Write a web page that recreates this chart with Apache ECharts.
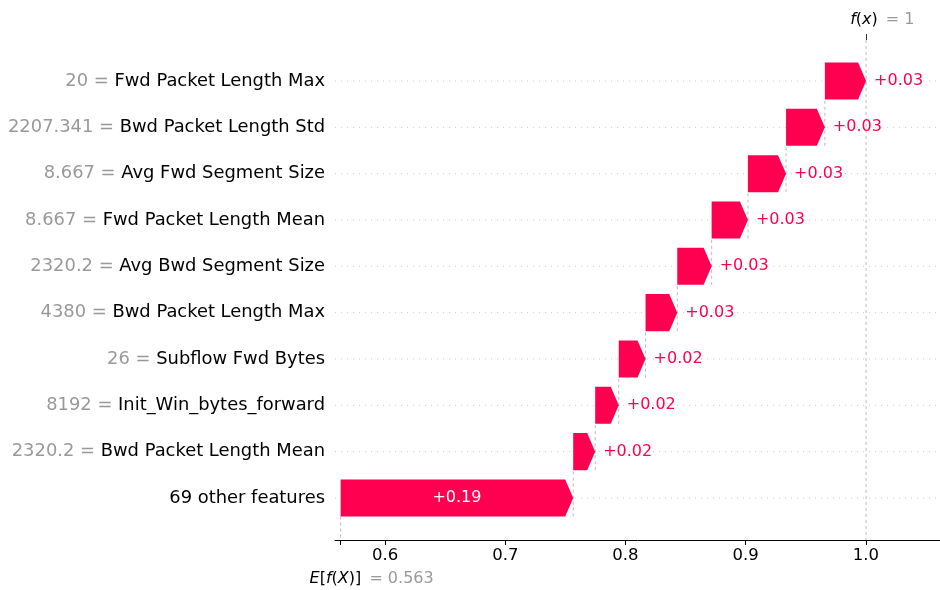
<!DOCTYPE html>
<html>
<head>
<meta charset="utf-8">
<script src="https://cdn.jsdelivr.net/npm/echarts@6/dist/echarts.min.js"></script>
<style>
  html, body { margin: 0; padding: 0; background: #fff; }
  #chart { width: 940px; height: 590px; }
</style>
</head>
<body>
<div id="chart"></div>
<script>
// rows listed top to bottom
const featureValues = ["20", "2207.341", "8.667", "8.667", "2320.2", "4380", "26", "8192", "2320.2", ""];
const featureNames = [
  "Fwd Packet Length Max",
  "Bwd Packet Length Std",
  "Avg Fwd Segment Size",
  "Fwd Packet Length Mean",
  "Avg Bwd Segment Size",
  "Bwd Packet Length Max",
  "Subflow Fwd Bytes",
  "Init_Win_bytes_forward",
  "Bwd Packet Length Mean",
  "69 other features",
];
const shapValues = [0.0343, 0.0323, 0.0317, 0.0302, 0.0286, 0.0264, 0.0223, 0.0196, 0.0183, 0.1935];
const baseValue = 0.563;
const fxValue = 1;
const xTicks = [0.6, 0.7, 0.8, 0.9, 1.0];

const FONT = "DejaVu Sans";
const PINK = "#ff0051";

// waterfall: each bar starts where the one below it ends
const starts = [];
const ends = [];
let acc = baseValue;
for (let i = featureNames.length - 1; i >= 0; i--) {
  starts[i] = acc;
  acc += shapValues[i];
  ends[i] = acc;
}
const barData = featureNames.map((_, i) => [i, starts[i], ends[i], shapValues[i]]);
const lastRow = featureNames.length - 1;

function renderGuides(params, api) {
  const row = api.value(0);
  const cs = params.coordSys;
  const a = api.coord([api.value(1), row]);
  const b = api.coord([api.value(2), row]);
  const unit = api.size([0, 1])[1];
  const dash = { stroke: "#bbbbbb", lineWidth: 1, lineDash: [3, 3] };
  const children = [
    {
      type: "line",
      shape: { x1: cs.x, y1: a[1], x2: cs.x + cs.width, y2: a[1] },
      style: { stroke: "#cccccc", lineWidth: 1, lineDash: [1, 5] },
    },
  ];
  if (row === 0) {
    children.push({ type: "line", shape: { x1: b[0], y1: cs.y, x2: b[0], y2: cs.y + cs.height }, style: dash });
  } else {
    children.push({ type: "line", shape: { x1: b[0], y1: a[1] + 0.4 * unit, x2: b[0], y2: a[1] - 0.6 * unit }, style: dash });
  }
  if (row === lastRow) {
    children.push({ type: "line", shape: { x1: a[0], y1: a[1] + 0.4 * unit, x2: a[0], y2: cs.y + cs.height }, style: dash });
  }
  return { type: "group", children };
}

function renderBar(params, api) {
  const row = api.value(0);
  const a = api.coord([api.value(1), row]);
  const b = api.coord([api.value(2), row]);
  const h = api.size([0, 1])[1] * 0.8;
  const w = b[0] - a[0];
  const hl = Math.min(8, w);
  const top = a[1] - h / 2;
  const bot = a[1] + h / 2;
  const inside = w > 80;
  return {
    type: "group",
    children: [
      {
        type: "polygon",
        shape: { points: [[a[0], top], [b[0] - hl, top], [b[0], a[1]], [b[0] - hl, bot], [a[0], bot]] },
        style: { fill: PINK },
      },
      {
        type: "text",
        x: inside ? (a[0] + b[0]) / 2 : b[0] + 8,
        y: a[1],
        style: {
          text: "+" + api.value(3).toFixed(2),
          fill: inside ? "#fff" : PINK,
          fontSize: 16,
          fontFamily: FONT,
          align: inside ? "center" : "left",
          verticalAlign: "middle",
        },
      },
    ],
  };
}

const xMin = 0.5583;
const xMax = 1.0617;
const mathRich = {
  i: { fontStyle: "italic", color: "#000", fontSize: 16, fontFamily: FONT },
  r: { color: "#000", fontSize: 16, fontFamily: FONT },
  g: { color: "#999999", fontSize: 16, fontFamily: FONT, padding: [0, 0, 0, 3] },
};

const chart = echarts.init(document.getElementById("chart"));
chart.setOption({
  animation: false,
  grid: { left: 335, right: 0, top: 40, bottom: 50 },
  xAxis: [
    {
      type: "value",
      min: xMin,
      max: xMax,
      position: "bottom",
      axisLine: { show: true, onZero: false, lineStyle: { color: "#000", width: 1 } },
      axisTick: { show: true, length: 5, customValues: [baseValue].concat(xTicks), lineStyle: { color: "#000" } },
      axisLabel: {
        customValues: xTicks,
        formatter: (v) => v.toFixed(1),
        fontSize: 16.5,
        fontFamily: FONT,
        color: "#000",
        margin: 7,
      },
      splitLine: { show: false },
    },
    {
      type: "value",
      min: xMin,
      max: xMax,
      position: "bottom",
      axisLine: { show: false, onZero: false },
      axisTick: { show: false },
      axisLabel: {
        customValues: [baseValue],
        formatter: () => "{i|E}{r|[}{i|f}{r|(}{i|X}{r|)]}{g| = " + baseValue.toFixed(3) + "}",
        rich: mathRich,
        align: "center",
        padding: [0, 0, 0, 62],
        margin: 31,
      },
      splitLine: { show: false },
    },
    {
      type: "value",
      min: xMin,
      max: xMax,
      position: "top",
      axisLine: { show: false, onZero: false },
      axisTick: { show: true, length: 6, customValues: [fxValue], lineStyle: { color: "#333" } },
      axisLabel: {
        customValues: [fxValue],
        formatter: () => "{i|f}{r|(}{i|x}{r|)}{g| = " + fxValue + "}",
        rich: mathRich,
        align: "center",
        padding: [0, 0, 0, 33],
        margin: 12,
      },
      splitLine: { show: false },
    },
  ],
  yAxis: {
    type: "value",
    inverse: true,
    min: -0.885,
    max: 9.907,
    axisLine: { show: false },
    axisTick: { show: false },
    splitLine: { show: false },
    axisLabel: {
      customValues: featureNames.map((_, i) => i),
      margin: 10,
      formatter: (v) => {
        const i = Math.round(v);
        const val = featureValues[i];
        return (val ? "{g|" + val + " = }" : "") + "{n|" + featureNames[i] + "}";
      },
      rich: {
        g: { color: "#999999", fontSize: 17.9, fontFamily: FONT },
        n: { color: "#000", fontSize: 17.9, fontFamily: FONT },
      },
    },
  },
  series: [
    {
      type: "custom",
      xAxisIndex: 0,
      yAxisIndex: 0,
      z: 1,
      silent: true,
      renderItem: renderGuides,
      encode: { x: [1, 2], y: 0 },
      data: barData,
    },
    {
      type: "custom",
      xAxisIndex: 0,
      yAxisIndex: 0,
      z: 2,
      silent: true,
      renderItem: renderBar,
      encode: { x: [1, 2], y: 0 },
      data: barData,
    },
  ],
});
</script>
</body>
</html>
